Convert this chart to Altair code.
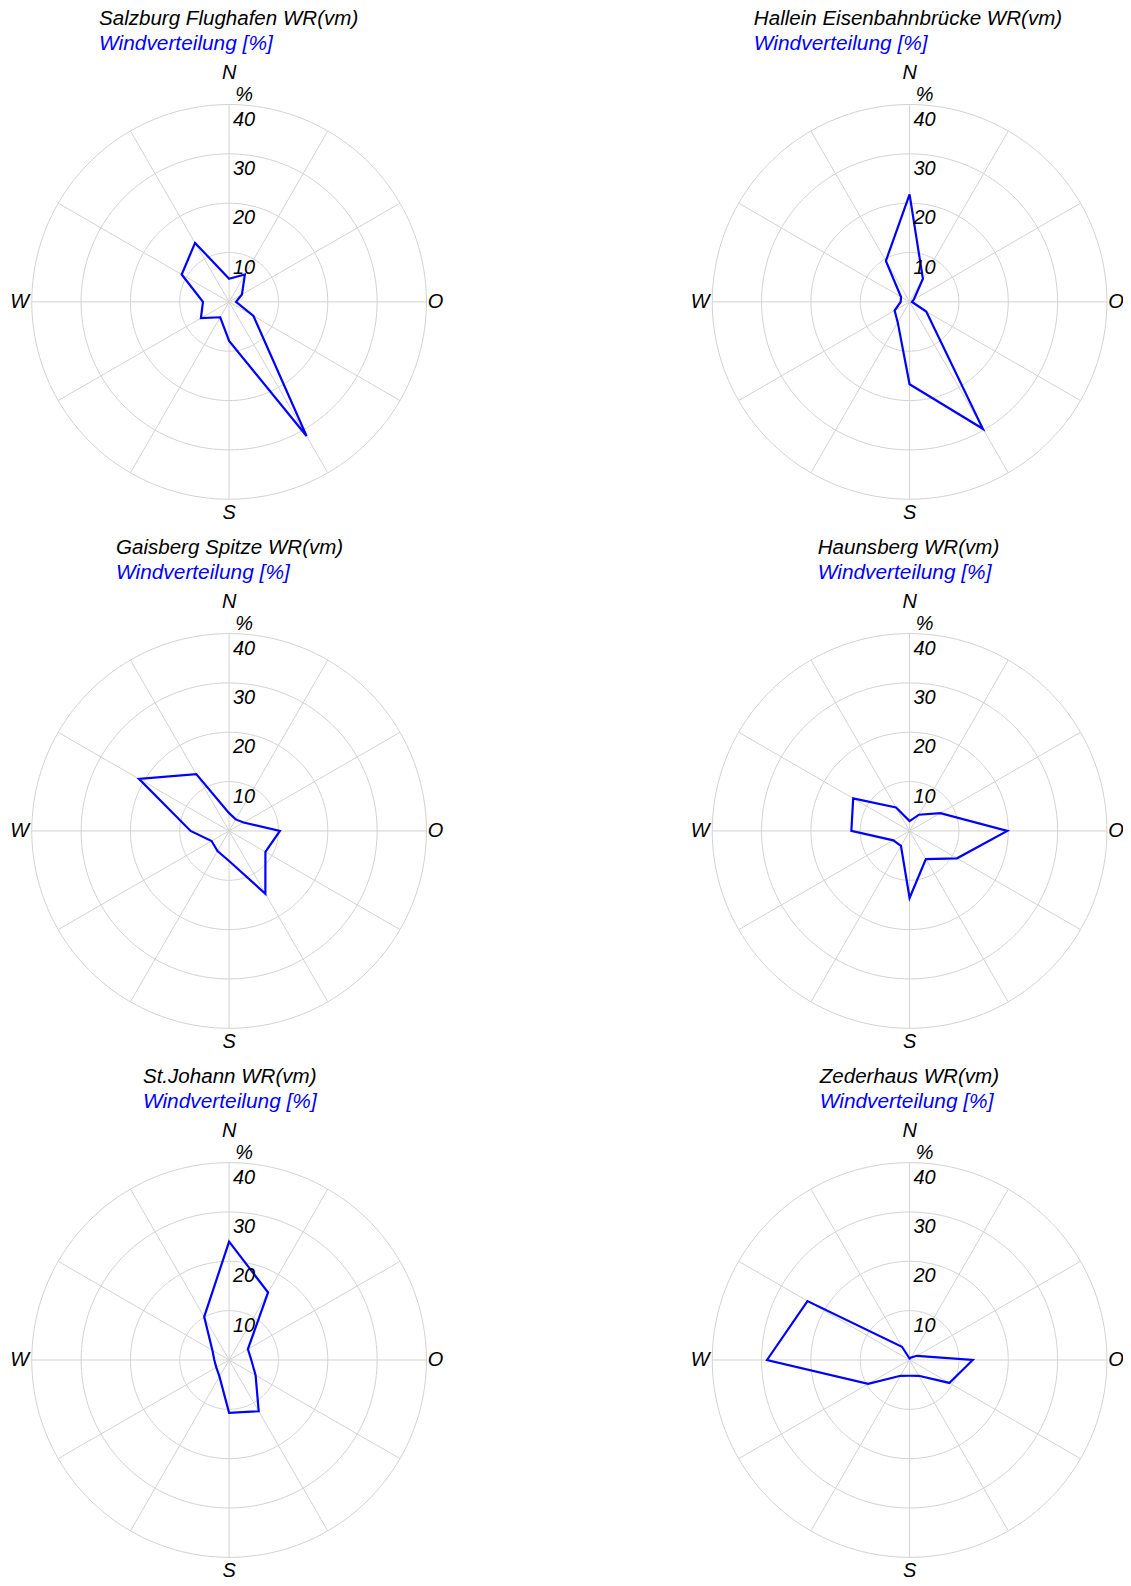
import altair as alt
import pandas as pd

# ---------------- data ----------------
directions = [0, 30, 60, 90, 120, 150, 180, 210, 240, 270, 300, 330]

stations = [
    "Salzburg Flughafen WR(vm)",
    "Hallein Eisenbahnbrücke WR(vm)",
    "Gaisberg Spitze WR(vm)",
    "Haunsberg WR(vm)",
    "St.Johann WR(vm)",
    "Zederhaus WR(vm)",
]

salzburg = [4.7, 6.4, 3.0, 1.4, 5.7, 31.4, 7.9, 3.6, 6.6, 5.3, 11.1, 13.8]
hallein = [21.8, 5.4, 1.0, 0.5, 3.9, 29.7, 16.7, 4.8, 3.5, 1.8, 2.0, 9.6]
gaisberg = [3.6, 2.7, 3.4, 10.3, 8.5, 14.7, 6.1, 4.7, 4.1, 7.8, 21.1, 13.3]
haunsberg = [2.0, 3.8, 7.2, 19.8, 11.1, 6.6, 13.6, 3.5, 3.8, 11.8, 13.2, 5.5]
stjohann = [24.0, 15.8, 4.4, 4.5, 6.2, 12.0, 10.7, 3.9, 3.0, 3.0, 3.9, 10.1]
zederhaus = [0.3, 0.6, 1.7, 12.8, 9.3, 3.7, 3.2, 3.7, 9.7, 28.9, 23.9, 3.1]
series = [salzburg, hallein, gaisberg, haunsberg, stjohann, zederhaus]

subtitle_text = "Windverteilung [%]"
ring_values = [10, 20, 30, 40]
ring_labels = ["10", "20", "30", "40"]
r_max = 40
compass_labels = ["N", "O", "S", "W"]
compass_dirs = [0, 90, 180, 270]

# ---------------- layout / style ----------------
PX = 197.7 / 40.0          # pixels per percent
HX, HY = 210.0, 220.0      # half plot width / height in px
DX, DY = HX / PX, HY / PX
FONT = "Liberation Sans"
BLUE = "#0000ff"
GRID = "#d2d2d2"
title_dx = [79.7, 54, 96.7, 118, 123.7, 120]
compass_offsets = {"N": (0, -32), "O": (9, 0), "S": (0, 14), "W": (-12, 0)}

xs = alt.Scale(domain=[-DX, DX], nice=False, zero=False)
ys = alt.Scale(domain=[-DY, DY], nice=False, zero=False)

XY = dict(x="datum.r * sin(datum.dir * PI / 180)",
          y="datum.r * cos(datum.dir * PI / 180)")


def X(f="x"):
    return alt.X(f"{f}:Q", scale=xs, axis=None)


def Y(f="y"):
    return alt.Y(f"{f}:Q", scale=ys, axis=None)


rings_df = pd.DataFrame(
    [{"ring": r, "dir": a, "r": r} for r in ring_values for a in range(0, 360, 2)]
)
spokes_df = pd.DataFrame({"dir": directions, "r": [r_max] * len(directions)})
ringlab_df = pd.DataFrame({"r": ring_values, "label": ring_labels, "dir": [0] * 4})


def panel(i):
    rings = (
        alt.Chart(rings_df)
        .transform_calculate(**XY)
        .mark_line(color=GRID, strokeWidth=1, interpolate="linear-closed")
        .encode(x=X(), y=Y(), detail="ring:N", order="dir:Q")
    )
    spokes = (
        alt.Chart(spokes_df)
        .transform_calculate(x0="0", y0="0", **XY)
        .mark_rule(color=GRID, strokeWidth=1)
        .encode(x=X("x0"), y=Y("y0"), x2="x:Q", y2="y:Q")
    )
    df = pd.DataFrame({"dir": directions, "r": series[i], "idx": range(len(directions))})
    poly = (
        alt.Chart(df)
        .transform_calculate(**XY)
        .mark_line(color=BLUE, strokeWidth=2.2, interpolate="linear-closed")
        .encode(x=X(), y=Y(), order="idx:Q")
    )
    rlab = (
        alt.Chart(ringlab_df)
        .transform_calculate(**XY)
        .mark_text(font=FONT, fontSize=20, fontStyle="italic", color="black",
                   dx=15, dy=15, baseline="middle", align="center")
        .encode(x=X(), y=Y(), text="label:N")
    )
    pct = (
        alt.Chart(pd.DataFrame({"r": [r_max], "dir": [0], "label": ["%"]}))
        .transform_calculate(**XY)
        .mark_text(font=FONT, fontSize=20, fontStyle="italic", color="black",
                   dx=15, dy=-10, baseline="middle", align="center")
        .encode(x=X(), y=Y(), text="label:N")
    )
    layers = [rings, spokes, poly, rlab, pct]
    for lab, d in zip(compass_labels, compass_dirs):
        ox, oy = compass_offsets[lab]
        layers.append(
            alt.Chart(pd.DataFrame({"r": [r_max], "dir": [d], "label": [lab]}))
            .transform_calculate(**XY)
            .mark_text(font=FONT, fontSize=20, fontStyle="italic", color="black",
                       dx=ox, dy=oy, baseline="middle", align="center")
            .encode(x=X(), y=Y(), text="label:N")
        )
    return alt.layer(*layers).properties(
        width=2 * HX,
        height=2 * HY,
        title=alt.TitleParams(
            text=stations[i],
            subtitle=subtitle_text,
            anchor="start",
            frame="group",
            dx=title_dx[i],
            offset=9,
            font=FONT,
            subtitleFont=FONT,
            fontSize=20.6,
            subtitleFontSize=20.9,
            fontStyle="italic",
            subtitleFontStyle="italic",
            fontWeight="normal",
            subtitleFontWeight="normal",
            color="black",
            subtitleColor=BLUE,
            subtitlePadding=3,
        ),
    )


chart = (
    alt.concat(*[panel(i) for i in range(6)], columns=2,
               spacing={"row": 90, "column": 261.7}, bounds="flush")
    .properties(padding={"left": 1.5, "top": -1, "right": -1.5, "bottom": 0})
    .configure_view(strokeWidth=0)
)

chart.save("out.html", embed_options={"renderer": "svg", "actions": False})
